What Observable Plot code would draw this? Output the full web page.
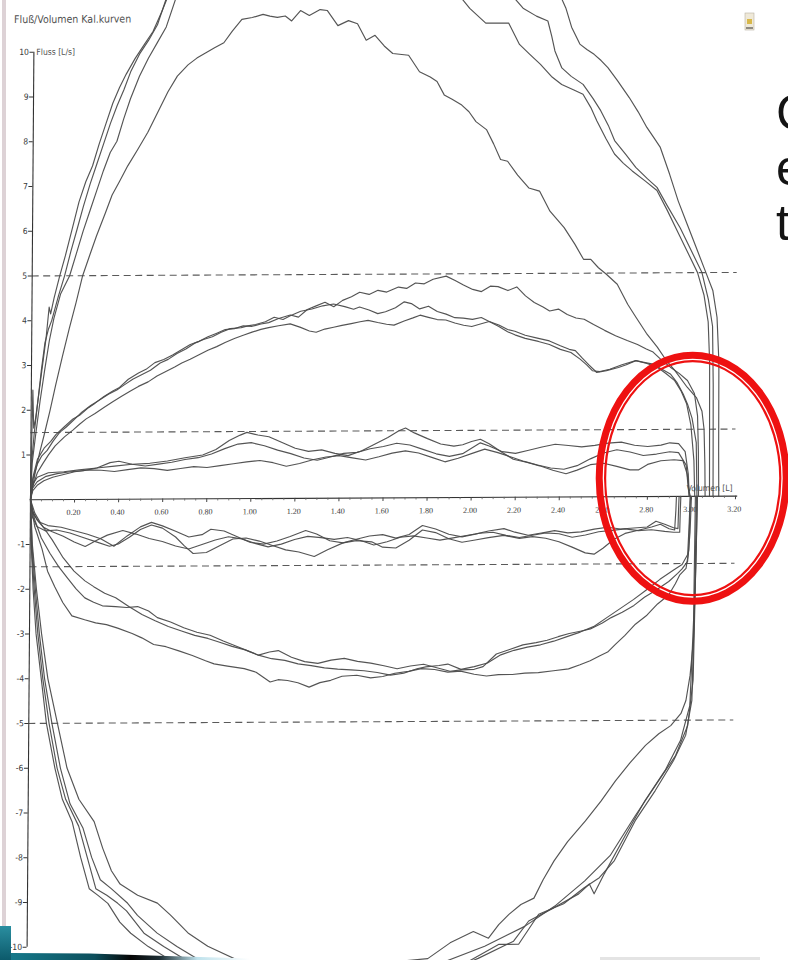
<!DOCTYPE html>
<html>
<head>
<meta charset="utf-8">
<script src="https://cdn.jsdelivr.net/npm/d3@7"></script>
<script src="https://cdn.jsdelivr.net/npm/@observablehq/plot@0.6"></script>
<style>
  html, body { margin: 0; padding: 0; background: #fff; }
  #chart { position: relative; width: 788px; height: 960px; overflow: hidden; }
</style>
</head>
<body>
<div id="chart"></div>
<script>
// ---------- texts ----------
const title = "Fluß/Volumen Kal.kurven";
const yAxisLabel = "Fluss [L/s]";
const xAxisLabel = "Volumen [L]";
const slideLetters = ["C", "e", "t"];

// ---------- ticks ----------
const xTicks = [0.2, 0.4, 0.6, 0.8, 1.0, 1.2, 1.4, 1.6, 1.8, 2.0, 2.2, 2.4, 2.6, 2.8, 3.0, 3.2];
const xTickLabels = ["0.20", "0.40", "0.60", "0.80", "1.00", "1.20", "1.40", "1.60", "1.80", "2.00", "2.20", "2.40", "2.60", "2.80", "3.00", "3.20"];
const xMinorTicks = [0.05, 0.1, 0.15, 0.25, 0.3, 0.35, 0.45, 0.5, 0.55, 0.65, 0.7, 0.75, 0.85, 0.9, 0.95, 1.05, 1.1, 1.15, 1.25, 1.3, 1.35, 1.45, 1.5, 1.55, 1.65, 1.7, 1.75, 1.85, 1.9, 1.95, 2.05, 2.1, 2.15, 2.25, 2.3, 2.35, 2.45, 2.5, 2.55, 2.65, 2.7, 2.75, 2.85, 2.9, 2.95, 3.05, 3.1, 3.15];
const yTicks = [-10, -9, -8, -7, -6, -5, -4, -3, -2, -1, 1, 2, 3, 4, 5, 6, 7, 8, 9, 10];
const toleranceLines = [5, 1.5, -1.5, -5];

// ---------- curves: [volume L, flow L/s] ----------
const bigUp1 = [[0,0],[0.004,1.5],[0.007,2.45],[0.012,1.6],[0.02,1.8],[0.035,2.4],[0.05,3.0],[0.065,3.6],[0.078,4.3],[0.085,4.15],[0.1,4.5],[0.125,5.0],[0.15,5.45],[0.18,6.05],[0.21,6.65],[0.24,7.1],[0.27,7.45],[0.3,7.95],[0.33,8.4],[0.36,8.85],[0.39,9.2],[0.42,9.5],[0.46,9.85],[0.5,10.15],[0.54,10.45],[0.58,10.9],[0.62,11.4],[0.75,12.3],[1.0,12.9],[1.4,13.0],[1.8,12.0],[1.977,10.93],[2.05,10.6],[2.154,10.6],[2.204,10.12],[2.25,9.9],[2.3,9.67],[2.35,9.4],[2.397,9.22],[2.45,9.1],[2.494,9.0],[2.53,8.7],[2.558,8.4],[2.6,8.0],[2.639,7.66],[2.68,7.45],[2.72,7.28],[2.78,7.05],[2.833,6.84],[2.88,6.4],[2.93,5.9],[2.98,5.4],[3.02,5.0],[3.05,4.5],[3.07,3.9],[3.078,3.0],[3.08,1.5],[3.082,0]];
const bigUp2 = [[0,0],[0.005,0.9],[0.015,1.5],[0.03,2.2],[0.045,2.9],[0.06,3.5],[0.075,3.8],[0.09,4.0],[0.12,4.55],[0.147,5.0],[0.175,5.55],[0.2,6.0],[0.23,6.55],[0.26,7.05],[0.29,7.5],[0.32,7.95],[0.35,8.4],[0.38,8.8],[0.41,9.15],[0.44,9.55],[0.48,9.95],[0.52,10.25],[0.56,10.6],[0.6,11.2],[0.7,12.0],[0.9,12.8],[1.3,13.2],[1.8,12.6],[2.1,11.6],[2.219,10.93],[2.28,10.75],[2.332,10.64],[2.35,10.3],[2.365,9.97],[2.397,9.59],[2.44,9.4],[2.494,9.22],[2.54,8.9],[2.575,8.63],[2.61,8.3],[2.639,7.96],[2.69,7.65],[2.736,7.36],[2.79,7.1],[2.833,6.91],[2.88,6.5],[2.94,6.0],[2.99,5.5],[3.04,5.0],[3.07,4.4],[3.09,3.8],[3.095,2.5],[3.097,1.0],[3.098,0]];
const bigUp3 = [[0,0],[0.006,0.8],[0.02,1.4],[0.04,2.2],[0.06,2.9],[0.08,3.55],[0.1,4.05],[0.13,4.6],[0.17,5.0],[0.2,5.5],[0.23,6.0],[0.26,6.45],[0.29,6.9],[0.32,7.35],[0.35,7.75],[0.38,8.0],[0.41,8.5],[0.44,8.95],[0.48,9.45],[0.52,9.85],[0.56,10.2],[0.6,10.55],[0.65,11.3],[0.8,12.2],[1.2,13.4],[1.7,13.5],[2.2,12.5],[2.36,11.5],[2.413,10.93],[2.44,10.5],[2.478,10.12],[2.51,10.0],[2.543,9.89],[2.575,9.75],[2.606,9.59],[2.65,9.3],[2.704,8.92],[2.745,8.6],[2.785,8.25],[2.82,8.0],[2.846,7.81],[2.89,7.2],[2.93,6.6],[2.97,6.1],[3.01,5.6],[3.05,5.1],[3.09,4.6],[3.11,4.0],[3.12,3.0],[3.122,1.0],[3.124,0]];
const bigUpDome = [[0,0],[0.02,0.6],[0.04,1.05],[0.06,1.45],[0.086,2.0],[0.11,2.55],[0.14,3.2],[0.17,3.82],[0.2,4.4],[0.229,5.0],[0.26,5.45],[0.29,5.88],[0.33,6.4],[0.36,6.8],[0.393,7.1],[0.43,7.45],[0.474,7.81],[0.52,8.2],[0.57,8.7],[0.61,9.1],[0.652,9.45],[0.7,9.7],[0.74,9.85],[0.781,9.97],[0.82,10.08],[0.862,10.19],[0.9,10.45],[0.943,10.71],[0.99,10.75],[1.039,10.82],[1.07,10.78],[1.104,10.75],[1.14,10.78],[1.169,10.67],[1.209,10.9],[1.249,10.79],[1.298,10.92],[1.33,10.9],[1.379,10.56],[1.427,10.67],[1.468,10.6],[1.508,10.23],[1.548,10.34],[1.59,10.1],[1.629,9.93],[1.701,9.89],[1.751,9.52],[1.8,9.4],[1.831,9.3],[1.864,9.0],[1.9,8.9],[1.944,8.77],[1.977,8.62],[2.009,8.4],[2.057,8.22],[2.09,7.9],[2.122,7.55],[2.154,7.51],[2.2,7.2],[2.251,6.91],[2.3,6.84],[2.348,6.39],[2.413,6.02],[2.462,5.65],[2.502,5.31],[2.535,5.31],[2.57,5.12],[2.605,4.98],[2.656,4.75],[2.704,4.3],[2.742,4.01],[2.79,3.65],[2.84,3.34],[2.88,3.05],[2.92,2.82],[2.977,2.44],[3.02,2.2],[3.045,1.9],[3.055,1.5],[3.06,0.7],[3.062,0]];

const midUp1 = [[0,0],[0.01,0.5],[0.03,0.9],[0.06,1.15],[0.09,1.3],[0.113,1.45],[0.15,1.62],[0.19,1.8],[0.22,1.88],[0.26,2.05],[0.29,2.15],[0.33,2.3],[0.37,2.42],[0.4,2.5],[0.44,2.68],[0.486,2.82],[0.52,2.9],[0.56,3.05],[0.6,3.12],[0.64,3.22],[0.682,3.34],[0.72,3.45],[0.76,3.52],[0.8,3.62],[0.84,3.7],[0.878,3.78],[0.92,3.8],[0.96,3.86],[1.0,3.85],[1.04,3.9],[1.075,3.93],[1.12,4.02],[1.173,4.1],[1.21,4.05],[1.25,4.22],[1.29,4.3],[1.33,4.38],[1.37,4.28],[1.41,4.42],[1.45,4.5],[1.487,4.6],[1.53,4.55],[1.57,4.64],[1.61,4.6],[1.663,4.71],[1.7,4.68],[1.74,4.8],[1.78,4.78],[1.82,4.88],[1.879,4.95],[1.92,4.85],[1.958,4.75],[2.0,4.65],[2.04,4.6],[2.08,4.72],[2.115,4.71],[2.16,4.62],[2.2,4.7],[2.24,4.5],[2.28,4.35],[2.32,4.25],[2.35,4.16],[2.39,4.2],[2.43,4.08],[2.47,4.0],[2.507,3.97],[2.55,3.85],[2.6,3.72],[2.65,3.6],[2.703,3.49],[2.75,3.4],[2.79,3.3],[2.821,3.23],[2.86,3.05],[2.9,2.89],[2.94,2.75],[2.978,2.59],[3.01,2.3],[3.025,1.8],[3.03,1.0],[3.032,0]];
const midUp2 = [[0,0],[0.01,0.45],[0.03,0.8],[0.05,0.98],[0.074,1.1],[0.1,1.3],[0.13,1.5],[0.16,1.62],[0.192,1.77],[0.23,1.95],[0.27,2.1],[0.31,2.22],[0.35,2.35],[0.388,2.44],[0.42,2.55],[0.46,2.68],[0.5,2.78],[0.54,2.88],[0.584,3.04],[0.62,3.12],[0.66,3.25],[0.7,3.35],[0.74,3.48],[0.78,3.56],[0.82,3.62],[0.86,3.72],[0.9,3.8],[0.95,3.82],[0.98,3.86],[1.016,3.89],[1.06,3.95],[1.1,4.05],[1.14,4.0],[1.173,4.08],[1.22,4.18],[1.271,4.23],[1.32,4.3],[1.369,4.34],[1.42,4.28],[1.46,4.22],[1.487,4.27],[1.53,4.2],[1.57,4.12],[1.605,4.16],[1.65,4.25],[1.69,4.38],[1.722,4.34],[1.76,4.22],[1.8,4.28],[1.84,4.16],[1.88,4.1],[1.92,4.02],[1.958,4.01],[2.0,3.98],[2.04,4.02],[2.076,3.93],[2.12,3.85],[2.16,3.75],[2.193,3.71],[2.24,3.62],[2.29,3.56],[2.35,3.49],[2.4,3.38],[2.44,3.3],[2.468,3.27],[2.5,3.1],[2.53,2.95],[2.566,2.78],[2.61,2.82],[2.664,2.89],[2.7,2.95],[2.743,3.04],[2.78,3.0],[2.821,2.96],[2.86,2.85],[2.9,2.74],[2.93,2.55],[2.959,2.29],[2.98,2.05],[3.0,1.75],[3.02,1.2],[3.025,0]];
const midUp3 = [[0,0],[0.01,0.3],[0.03,0.6],[0.054,0.8],[0.08,1.0],[0.11,1.2],[0.152,1.4],[0.19,1.55],[0.22,1.68],[0.25,1.8],[0.29,1.92],[0.33,2.05],[0.37,2.18],[0.41,2.3],[0.45,2.42],[0.486,2.52],[0.53,2.62],[0.57,2.75],[0.61,2.85],[0.65,2.95],[0.682,3.04],[0.72,3.12],[0.76,3.22],[0.8,3.32],[0.84,3.4],[0.878,3.49],[0.92,3.58],[0.96,3.65],[1.0,3.72],[1.04,3.78],[1.075,3.82],[1.12,3.86],[1.173,3.9],[1.22,3.82],[1.26,3.74],[1.291,3.71],[1.33,3.78],[1.37,3.82],[1.408,3.86],[1.45,3.9],[1.49,3.94],[1.526,3.97],[1.57,3.92],[1.61,3.88],[1.644,3.86],[1.69,3.95],[1.73,4.02],[1.762,4.08],[1.8,4.03],[1.84,3.98],[1.879,3.97],[1.92,3.9],[1.96,3.85],[1.997,3.82],[2.04,3.88],[2.076,3.93],[2.12,3.82],[2.16,3.7],[2.193,3.63],[2.24,3.55],[2.3,3.48],[2.35,3.41],[2.4,3.3],[2.448,3.23],[2.49,3.08],[2.52,2.95],[2.546,2.82],[2.58,2.8],[2.625,2.85],[2.68,2.95],[2.743,3.04],[2.79,2.98],[2.841,2.89],[2.88,2.75],[2.92,2.59],[2.95,2.35],[2.975,2.07],[2.995,1.6],[3.01,0.8],[3.015,0]];

const smallUp1 = [[0,0],[0.005,0.3],[0.03,0.5],[0.08,0.6],[0.15,0.62],[0.22,0.66],[0.3,0.7],[0.38,0.74],[0.46,0.78],[0.54,0.8],[0.62,0.85],[0.7,0.92],[0.78,0.98],[0.84,1.1],[0.9,1.3],[0.95,1.42],[0.98,1.48],[1.03,1.42],[1.08,1.38],[1.14,1.25],[1.2,1.12],[1.26,1.05],[1.32,1.08],[1.38,1.0],[1.44,0.95],[1.5,1.05],[1.56,1.2],[1.62,1.35],[1.67,1.5],[1.7,1.56],[1.74,1.45],[1.8,1.32],[1.86,1.2],[1.92,1.15],[1.96,1.18],[2.0,1.25],[2.04,1.3],[2.08,1.2],[2.14,1.0],[2.19,0.85],[2.25,0.78],[2.31,0.7],[2.37,0.6],[2.43,0.52],[2.48,0.6],[2.54,0.72],[2.6,0.75],[2.66,0.68],[2.72,0.6],[2.76,0.6],[2.8,0.72],[2.86,0.8],[2.92,0.82],[2.96,0.8],[2.98,0.5],[2.99,0.1],[2.995,0]];
const smallUp2 = [[0,0],[0.008,0.25],[0.03,0.4],[0.07,0.52],[0.12,0.58],[0.18,0.62],[0.24,0.64],[0.3,0.7],[0.36,0.82],[0.4,0.85],[0.46,0.78],[0.52,0.74],[0.58,0.78],[0.64,0.82],[0.7,0.88],[0.76,0.92],[0.82,1.0],[0.88,1.12],[0.94,1.22],[1.0,1.25],[1.06,1.18],[1.12,1.08],[1.18,1.0],[1.24,0.9],[1.3,0.85],[1.36,0.92],[1.42,1.0],[1.48,1.02],[1.54,1.1],[1.6,1.15],[1.66,1.22],[1.72,1.18],[1.78,1.08],[1.84,0.98],[1.9,0.92],[1.96,0.98],[2.0,1.1],[2.04,1.22],[2.08,1.15],[2.14,1.02],[2.2,0.98],[2.26,1.05],[2.32,1.12],[2.38,1.18],[2.44,1.15],[2.5,1.12],[2.56,1.15],[2.62,1.2],[2.68,1.22],[2.74,1.15],[2.8,1.12],[2.86,1.15],[2.9,1.2],[2.94,1.18],[2.97,1.0],[2.985,0.5],[2.99,0]];
const smallUp3 = [[0,0],[0.01,0.2],[0.03,0.32],[0.06,0.42],[0.1,0.5],[0.15,0.56],[0.2,0.62],[0.26,0.66],[0.32,0.65],[0.38,0.62],[0.44,0.66],[0.5,0.7],[0.56,0.68],[0.62,0.64],[0.68,0.68],[0.74,0.72],[0.8,0.7],[0.86,0.74],[0.92,0.78],[0.98,0.82],[1.04,0.85],[1.1,0.8],[1.16,0.72],[1.22,0.78],[1.28,0.86],[1.34,0.92],[1.4,0.95],[1.46,0.9],[1.52,0.85],[1.58,0.92],[1.64,1.0],[1.7,1.05],[1.76,1.0],[1.82,0.9],[1.88,0.8],[1.94,0.88],[2.0,0.98],[2.06,1.08],[2.12,1.0],[2.18,0.9],[2.24,0.8],[2.3,0.72],[2.36,0.65],[2.42,0.62],[2.48,0.7],[2.54,0.85],[2.6,0.98],[2.66,1.05],[2.72,1.0],[2.78,0.92],[2.84,0.95],[2.9,1.0],[2.94,0.98],[2.975,0.7],[2.985,0.2],[2.99,0]];

const smallDown1 = [[0,0],[0.01,-0.4],[0.03,-0.6],[0.07,-0.7],[0.12,-0.68],[0.18,-0.75],[0.24,-0.85],[0.3,-0.95],[0.36,-1.05],[0.4,-1.0],[0.45,-0.85],[0.5,-0.68],[0.55,-0.58],[0.6,-0.65],[0.66,-0.85],[0.7,-1.05],[0.74,-1.22],[0.8,-1.2],[0.86,-1.05],[0.92,-0.9],[0.98,-0.88],[1.04,-0.95],[1.1,-1.05],[1.16,-1.15],[1.22,-1.2],[1.29,-1.3],[1.35,-1.15],[1.42,-1.0],[1.48,-0.95],[1.55,-0.98],[1.6,-1.1],[1.66,-1.12],[1.72,-0.95],[1.78,-0.72],[1.84,-0.78],[1.9,-0.92],[1.96,-1.0],[2.02,-0.95],[2.08,-0.9],[2.15,-0.85],[2.22,-0.92],[2.28,-0.88],[2.34,-0.92],[2.4,-1.0],[2.46,-1.12],[2.52,-1.25],[2.56,-1.28],[2.6,-1.15],[2.65,-0.95],[2.7,-0.82],[2.76,-0.75],[2.82,-0.68],[2.86,-0.62],[2.9,-0.72],[2.925,-0.75],[2.93,-0.3],[2.932,0]];
const smallDown2 = [[0,0],[0.01,-0.3],[0.04,-0.5],[0.08,-0.58],[0.14,-0.62],[0.2,-0.7],[0.26,-0.78],[0.32,-0.88],[0.38,-1.05],[0.44,-0.82],[0.5,-0.62],[0.55,-0.52],[0.6,-0.6],[0.66,-0.72],[0.72,-0.85],[0.78,-0.8],[0.82,-0.68],[0.88,-0.72],[0.94,-0.85],[1.0,-0.98],[1.06,-1.02],[1.12,-0.95],[1.18,-0.85],[1.25,-0.72],[1.3,-0.8],[1.36,-0.95],[1.42,-1.0],[1.48,-0.92],[1.54,-0.85],[1.6,-0.82],[1.66,-0.9],[1.72,-0.82],[1.78,-0.62],[1.84,-0.7],[1.9,-0.82],[1.96,-0.88],[2.02,-0.82],[2.08,-0.75],[2.15,-0.7],[2.2,-0.78],[2.26,-0.85],[2.32,-0.8],[2.38,-0.75],[2.44,-0.8],[2.5,-0.78],[2.56,-0.72],[2.62,-0.68],[2.68,-0.72],[2.74,-0.7],[2.8,-0.68],[2.84,-0.55],[2.88,-0.62],[2.92,-0.7],[2.94,-0.72],[2.942,-0.3],[2.944,0]];
const smallDown3 = [[0,0],[0.01,-0.25],[0.03,-0.45],[0.06,-0.62],[0.1,-0.72],[0.15,-0.82],[0.2,-0.95],[0.25,-1.05],[0.3,-0.92],[0.35,-0.8],[0.42,-0.7],[0.48,-0.78],[0.54,-0.88],[0.6,-0.95],[0.66,-1.05],[0.72,-1.12],[0.78,-1.02],[0.84,-0.92],[0.9,-0.85],[0.96,-0.9],[1.02,-1.0],[1.08,-1.08],[1.14,-1.02],[1.2,-0.92],[1.26,-0.85],[1.32,-0.88],[1.38,-0.92],[1.44,-0.88],[1.5,-0.95],[1.56,-1.05],[1.62,-0.98],[1.68,-0.88],[1.74,-0.85],[1.8,-0.9],[1.86,-0.95],[1.92,-0.9],[1.98,-0.85],[2.04,-0.8],[2.1,-0.78],[2.16,-0.85],[2.22,-0.9],[2.28,-0.85],[2.34,-0.8],[2.4,-0.82],[2.46,-0.9],[2.52,-0.85],[2.58,-0.78],[2.64,-0.75],[2.7,-0.72],[2.76,-0.76],[2.82,-0.74],[2.88,-0.78],[2.92,-0.8],[2.948,-0.8],[2.95,-0.3],[2.952,0]];

const midDown1 = [[0,0],[0.02,-0.6],[0.054,-1.1],[0.08,-1.6],[0.113,-1.95],[0.15,-2.3],[0.192,-2.6],[0.25,-2.69],[0.3,-2.76],[0.349,-2.8],[0.4,-2.88],[0.466,-3.0],[0.51,-3.1],[0.564,-3.25],[0.62,-3.3],[0.682,-3.4],[0.74,-3.5],[0.8,-3.62],[0.839,-3.69],[0.9,-3.74],[0.976,-3.8],[1.03,-3.88],[1.094,-4.1],[1.13,-4.05],[1.173,-4.07],[1.22,-4.12],[1.271,-4.22],[1.32,-4.12],[1.369,-4.07],[1.42,-3.98],[1.487,-3.96],[1.55,-4.02],[1.605,-3.99],[1.66,-3.92],[1.722,-3.88],[1.78,-3.82],[1.84,-3.84],[1.9,-3.9],[1.958,-3.88],[2.02,-3.95],[2.076,-3.99],[2.13,-3.96],[2.193,-3.96],[2.25,-3.93],[2.311,-3.92],[2.38,-3.88],[2.448,-3.84],[2.5,-3.75],[2.546,-3.66],[2.59,-3.55],[2.625,-3.47],[2.66,-3.3],[2.703,-3.1],[2.75,-2.85],[2.802,-2.65],[2.85,-2.4],[2.9,-2.2],[2.93,-1.95],[2.949,-1.76],[2.978,-1.61],[2.99,-1.2],[2.995,0]];
const midDown2 = [[0,0],[0.02,-0.45],[0.05,-0.85],[0.09,-1.2],[0.13,-1.5],[0.17,-1.75],[0.21,-2.0],[0.25,-2.2],[0.29,-2.3],[0.33,-2.38],[0.39,-2.4],[0.44,-2.42],[0.49,-2.4],[0.54,-2.5],[0.58,-2.65],[0.64,-2.75],[0.7,-2.88],[0.76,-2.98],[0.82,-3.05],[0.88,-3.18],[0.94,-3.3],[1.0,-3.42],[1.04,-3.5],[1.09,-3.43],[1.13,-3.4],[1.19,-3.55],[1.25,-3.65],[1.31,-3.69],[1.37,-3.62],[1.43,-3.58],[1.49,-3.65],[1.55,-3.69],[1.61,-3.75],[1.67,-3.82],[1.73,-3.76],[1.79,-3.72],[1.85,-3.8],[1.91,-3.88],[1.96,-3.85],[2.02,-3.84],[2.06,-3.78],[2.12,-3.5],[2.18,-3.4],[2.24,-3.3],[2.3,-3.25],[2.35,-3.2],[2.4,-3.12],[2.45,-3.05],[2.5,-3.0],[2.546,-2.95],[2.6,-2.82],[2.64,-2.7],[2.69,-2.58],[2.743,-2.43],[2.79,-2.25],[2.84,-2.1],[2.9,-1.9],[2.94,-1.72],[2.96,-1.62],[2.985,-1.45],[2.995,-0.8],[3.0,0]];
const midDown3 = [[0,0],[0.02,-0.3],[0.05,-0.55],[0.1,-0.9],[0.15,-1.3],[0.2,-1.6],[0.25,-1.82],[0.29,-1.95],[0.34,-2.1],[0.39,-2.2],[0.45,-2.4],[0.51,-2.58],[0.57,-2.72],[0.63,-2.85],[0.69,-2.95],[0.75,-3.05],[0.81,-3.12],[0.86,-3.2],[0.92,-3.3],[0.98,-3.38],[1.04,-3.5],[1.1,-3.58],[1.16,-3.62],[1.22,-3.7],[1.28,-3.74],[1.34,-3.79],[1.4,-3.82],[1.46,-3.84],[1.52,-3.86],[1.58,-3.9],[1.64,-3.96],[1.7,-3.92],[1.76,-3.82],[1.8,-3.78],[1.86,-3.75],[1.9,-3.72],[1.96,-3.84],[2.02,-3.78],[2.08,-3.7],[2.14,-3.52],[2.2,-3.42],[2.26,-3.35],[2.32,-3.3],[2.38,-3.22],[2.44,-3.12],[2.5,-3.02],[2.56,-2.9],[2.62,-2.7],[2.68,-2.5],[2.74,-2.3],[2.8,-2.08],[2.86,-1.85],[2.92,-1.65],[2.96,-1.52],[2.985,-1.3],[2.99,-0.7],[2.995,0]];

const bigDown1 = [[0,0],[0.005,-1.0],[0.015,-2.0],[0.03,-3.0],[0.055,-4.0],[0.08,-5.0],[0.12,-6.0],[0.155,-6.7],[0.2,-7.2],[0.24,-8.0],[0.28,-8.7],[0.32,-8.85],[0.365,-9.03],[0.42,-9.45],[0.47,-9.7],[0.55,-10.0],[0.65,-10.3],[0.8,-10.6],[1.1,-10.9],[1.4,-10.8],[1.661,-10.37],[1.819,-10.3],[1.92,-9.95],[2.025,-9.7],[2.094,-9.85],[2.14,-9.55],[2.186,-9.32],[2.24,-9.1],[2.299,-8.96],[2.34,-8.55],[2.389,-8.13],[2.45,-7.7],[2.53,-7.24],[2.6,-6.8],[2.665,-6.35],[2.73,-5.95],[2.8,-5.56],[2.86,-5.3],[2.914,-5.12],[2.96,-4.85],[2.982,-4.56],[3.0,-4.0],[3.014,-3.22],[3.023,-1.43],[3.027,0]];
const bigDown2 = [[0,0],[0.006,-1.0],[0.02,-2.0],[0.038,-3.0],[0.062,-4.0],[0.092,-5.0],[0.13,-6.0],[0.17,-6.7],[0.23,-7.3],[0.27,-8.0],[0.31,-8.7],[0.36,-8.85],[0.41,-9.03],[0.45,-9.2],[0.53,-9.7],[0.62,-10.0],[0.72,-10.3],[0.9,-10.7],[1.3,-11.0],[1.7,-10.8],[2.003,-10.37],[2.14,-9.99],[2.231,-9.99],[2.321,-9.32],[2.434,-9.09],[2.525,-8.74],[2.595,-8.51],[2.663,-8.13],[2.756,-7.24],[2.846,-6.57],[2.928,-5.9],[2.982,-5.34],[3.009,-4.56],[3.018,-2.32],[3.023,0]];
const bigDown3 = [[0,0],[0.008,-1.0],[0.025,-2.0],[0.045,-3.0],[0.07,-4.0],[0.105,-5.0],[0.145,-6.0],[0.19,-6.8],[0.25,-7.35],[0.29,-8.0],[0.33,-8.5],[0.38,-8.7],[0.455,-9.03],[0.5,-9.3],[0.59,-9.7],[0.68,-10.0],[0.78,-10.3],[1.0,-10.7],[1.5,-11.0],[1.9,-10.6],[2.048,-10.3],[2.208,-9.92],[2.276,-9.47],[2.389,-9.18],[2.502,-8.87],[2.55,-8.65],[2.572,-8.87],[2.618,-8.42],[2.71,-7.58],[2.8,-6.79],[2.89,-6.12],[2.959,-5.45],[3.0,-4.67],[3.014,-2.77],[3.018,0]];
const bigDown4 = [[0,0],[0.01,-1.0],[0.03,-2.0],[0.055,-3.0],[0.085,-4.0],[0.13,-5.0],[0.175,-6.0],[0.23,-6.7],[0.3,-7.2],[0.34,-7.8],[0.38,-8.3],[0.42,-8.6],[0.5,-8.85],[0.59,-9.03],[0.65,-9.3],[0.73,-9.7],[0.82,-10.0],[0.95,-10.3],[1.2,-10.8],[1.6,-10.9],[1.896,-10.37],[2.077,-10.03],[2.258,-9.59],[2.394,-9.14],[2.529,-8.58],[2.643,-8.02],[2.756,-7.13],[2.846,-6.46],[2.937,-5.79],[2.991,-5.12],[3.014,-4.11],[3.027,0]];

const curves = {bigUp1, bigUp2, bigUp3, bigUpDome, midUp1, midUp2, midUp3, smallUp1, smallUp2, smallUp3,
  smallDown1, smallDown2, smallDown3, midDown1, midDown2, midDown3, bigDown1, bigDown2, bigDown3, bigDown4};

// ---------- annotation (red highlight ring, centre in data units) ----------
const highlightCentre = {vol: 3.008, flow: 0.47};

// ---------- build ----------
const rows = Object.entries(curves).flatMap(([name, pts]) => pts.map(([vol, flow]) => ({curve: name, vol, flow})));

const ink = "#4b4b4b";
const textInk = "#505050";
const narrow = "'Liberation Sans Narrow', 'DejaVu Sans Condensed', 'Roboto', sans-serif";

const chart = Plot.plot({
  width: 788,
  height: 960,
  margin: 0,
  style: {background: "white", overflow: "hidden"},
  x: {domain: [0, 3.2], range: [30, 735], axis: null},
  y: {domain: [-10, 10], range: [946.7, 51.7], axis: null},
  marks: [
    Plot.ruleY(toleranceLines, {x1: 0, x2: 3.2, stroke: "#5a5a5a", strokeWidth: 1.1, strokeDasharray: "7,4.5"}),
    Plot.ruleX([0], {y1: -10, y2: 10, stroke: "#333", strokeWidth: 1.1}),
    Plot.ruleY([0], {x1: 0, x2: 3.21, stroke: "#333", strokeWidth: 1.1}),
    Plot.ruleY(yTicks, {x1: 0, x2: -0.018, stroke: "#333", strokeWidth: 1}),
    Plot.ruleX(xTicks, {y1: 0, y2: -0.08, stroke: "#444", strokeWidth: 1}),
    Plot.ruleX(xMinorTicks, {y1: 0, y2: -0.05, stroke: "#666", strokeWidth: 0.8}),
    Plot.text(xTicks, {x: d => d, y: 0, text: (d, i) => xTickLabels[i], dy: 13, dx: -1, fontSize: 8, fill: "#3a3a3a",
      fontFamily: "'Liberation Serif', 'DejaVu Serif', serif", letterSpacing: "-0.3px"}),
    Plot.text(yTicks, {x: 0, y: d => d, text: d => String(d), textAnchor: "end", dx: -5, fontSize: 8.5, fill: "#3a3a3a", fontFamily: narrow}),
    Plot.text([yAxisLabel], {x: 0, y: 10, textAnchor: "start", dx: 2.5, fontSize: 8.5, fill: textInk, fontFamily: narrow}),
    Plot.text([xAxisLabel], {x: 3.2, y: 0, textAnchor: "end", dx: -3, dy: -8, fontSize: 8.5, fill: textInk, fontFamily: narrow}),
    Plot.text([title], {frameAnchor: "top-left", dx: 10, dy: 15, lineAnchor: "top", fontSize: 10.5, fill: textInk, fontFamily: narrow}),
    Plot.line(rows, {x: "vol", y: "flow", z: "curve", stroke: ink, strokeWidth: 1.15, strokeLinejoin: "round", strokeOpacity: 0.95})
  ]
});

// the page was photographed slightly skewed: shear the scanned chart
const svg = d3.select(chart);
const kids = Array.from(chart.childNodes).filter(n => n.nodeName.toLowerCase() !== "style");
const g = svg.append("g").attr("transform", "matrix(1,-0.005,-0.0076,1,3.79,0.15)");
kids.forEach(k => g.node().appendChild(k));

const sx = chart.scale("x"), sy = chart.scale("y");
const cx = sx.apply(highlightCentre.vol), cy = sy.apply(highlightCentre.flow);

// slide background pieces (drawn beneath the scanned chart content)
const bg = svg.insert("g", ":first-child");
const defs = svg.append("defs");
const tg = defs.append("linearGradient").attr("id", "teal").attr("x1", 0).attr("x2", 0).attr("y1", 0).attr("y2", 1);
tg.append("stop").attr("offset", 0).attr("stop-color", "#2a8ea0");
tg.append("stop").attr("offset", 1).attr("stop-color", "#0c5a6b");
const sg = defs.append("linearGradient").attr("id", "swoosh").attr("x1", 0).attr("x2", 1).attr("y1", 0).attr("y2", 0);
sg.append("stop").attr("offset", 0).attr("stop-color", "#15798b");
sg.append("stop").attr("offset", 0.35).attr("stop-color", "#0d4f5c");
sg.append("stop").attr("offset", 0.5).attr("stop-color", "#060606");
sg.append("stop").attr("offset", 0.62).attr("stop-color", "#1c2d33");
sg.append("stop").attr("offset", 0.78).attr("stop-color", "#bfe2ec");
sg.append("stop").attr("offset", 1).attr("stop-color", "#ffffff");

svg.append("rect").attr("x", 2).attr("y", 0).attr("width", 4).attr("height", 926).attr("fill", "#ddd2d6");
svg.append("rect").attr("x", 0).attr("y", 926).attr("width", 11).attr("height", 34).attr("fill", "url(#teal)");
svg.append("path").attr("d", "M11,953 L90,953.5 L150,955.5 L250,958.5 L250,960 L11,960 Z").attr("fill", "url(#swoosh)");
svg.append("rect").attr("x", 600).attr("y", 957).attr("width", 160).attr("height", 3).attr("fill", "#e4e4e4");

// small icon top right
const icon = svg.append("g");
icon.append("rect").attr("x", 745).attr("y", 13).attr("width", 9).attr("height", 17).attr("fill", "#efe9d8").attr("stroke", "#b9b3a3").attr("stroke-width", 0.6);
icon.append("rect").attr("x", 747).attr("y", 19).attr("width", 5).attr("height", 5).attr("fill", "#d8b84a");
icon.append("rect").attr("x", 746).attr("y", 27).attr("width", 7).attr("height", 2).attr("fill", "#8e8a80");

// cropped slide text at right edge (the slide's text runs off the photographed area)
svg.selectAll("text.slide").data(slideLetters).join("text").attr("class", "slide")
  .attr("x", 776).attr("y", (d, i) => 130 + i * 55)
  .attr("text-anchor", "start")
  .attr("font-family", "'Liberation Sans', Arial, sans-serif").attr("font-size", 50).attr("fill", "#141414")
  .text(d => d);

// red double ring highlight
svg.append("ellipse").attr("cx", cx).attr("cy", cy).attr("rx", 93.5).attr("ry", 123)
  .attr("fill", "none").attr("stroke", "#ee1111").attr("stroke-width", 7);
svg.append("ellipse").attr("cx", cx).attr("cy", cy).attr("rx", 87.6).attr("ry", 117)
  .attr("fill", "none").attr("stroke", "#ee1111").attr("stroke-width", 2.2);

document.getElementById("chart").appendChild(chart);
</script>
</body>
</html>
